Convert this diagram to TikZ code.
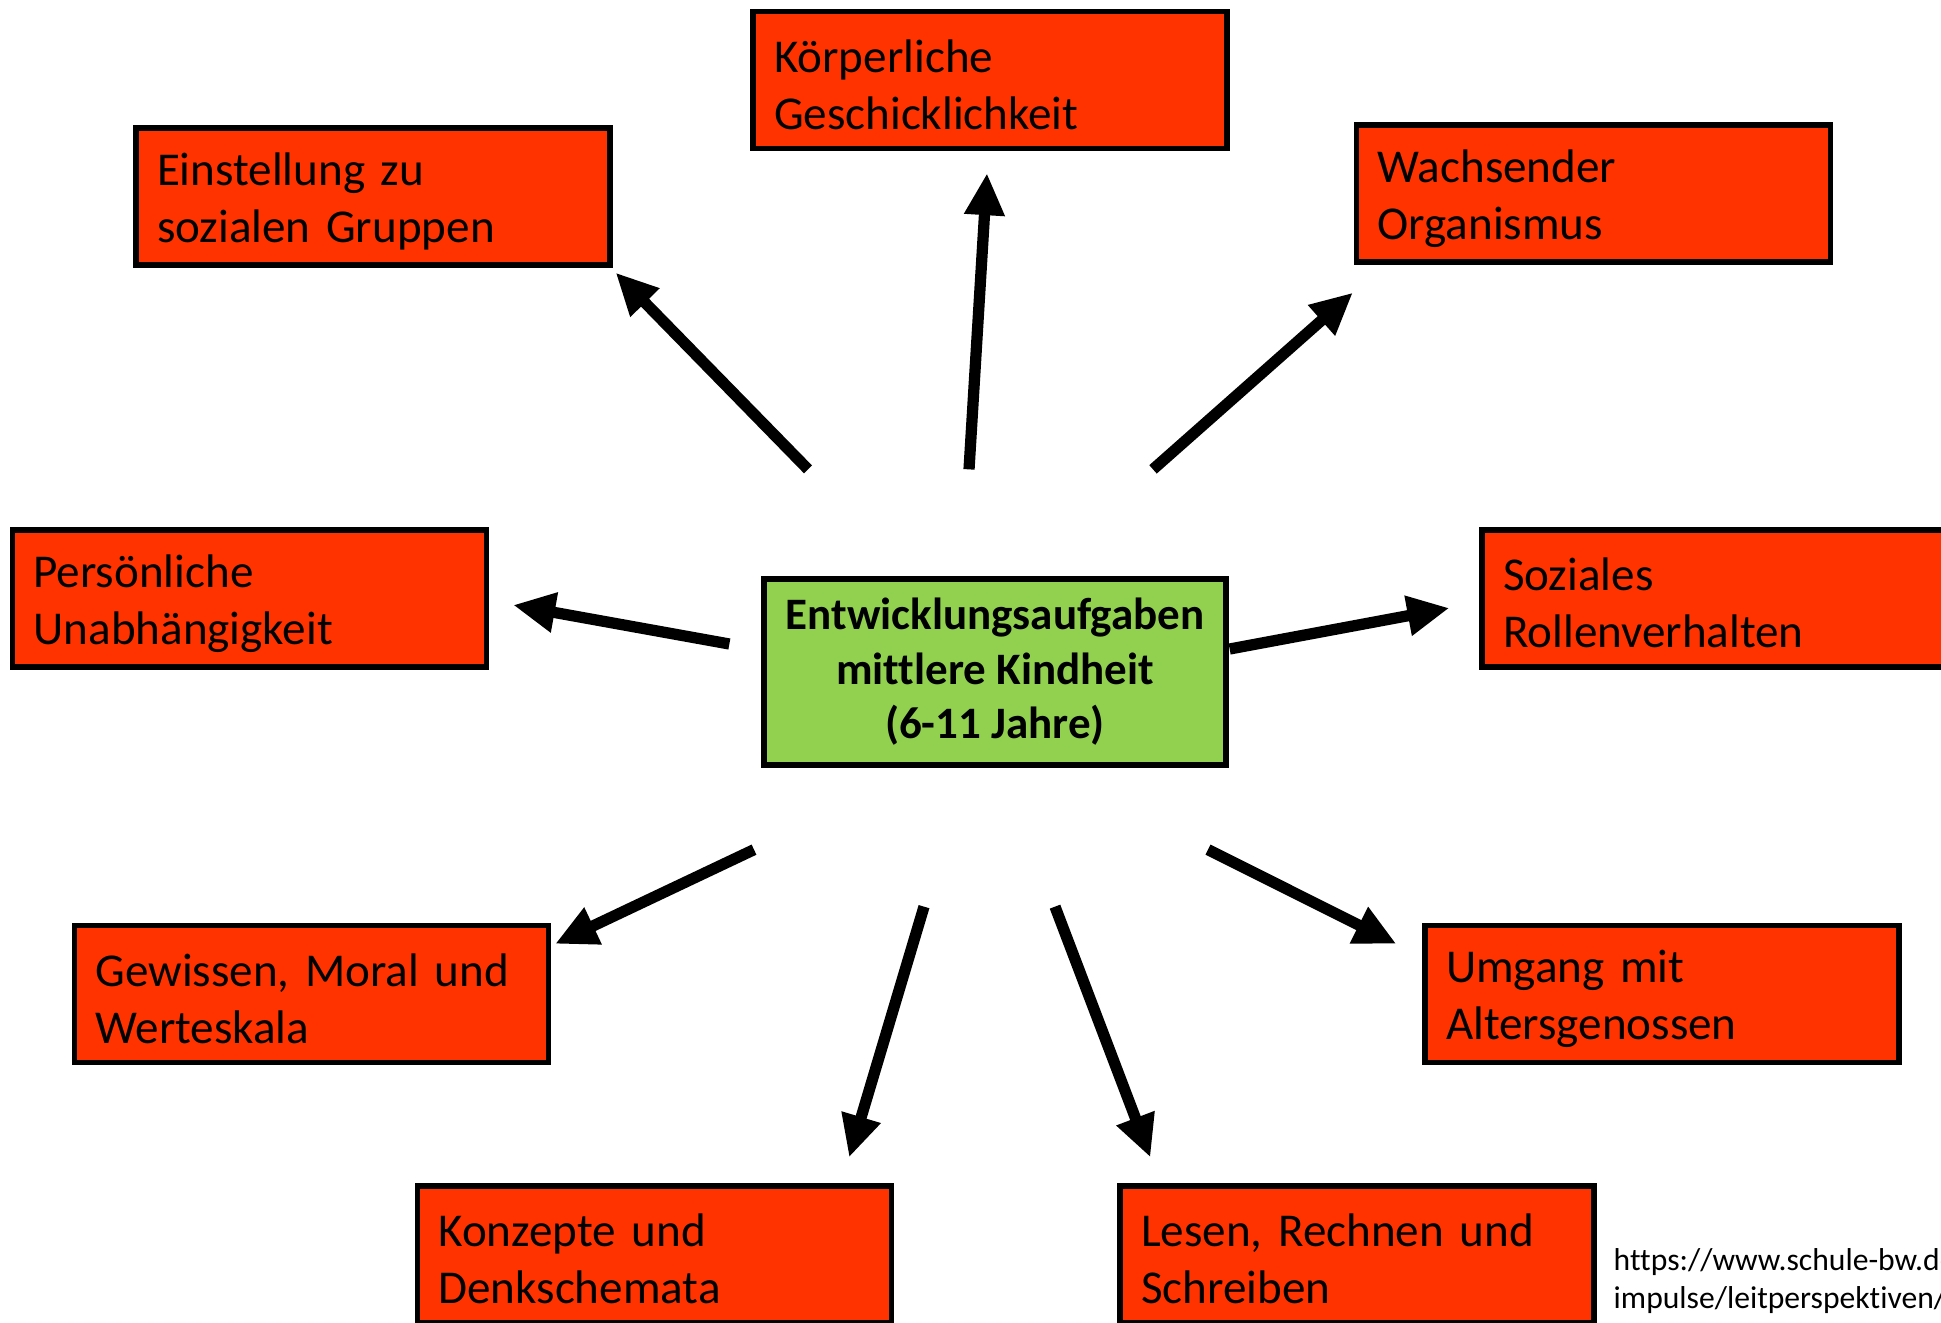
\documentclass[tikz,border=0pt]{standalone}
\usepackage{fontspec}
\setmainfont{Carlito}[Ligatures=NoCommon]
\usepackage{tikz}
\usetikzlibrary{arrows.meta,positioning,calc}

\definecolor{aufgabenrot}{HTML}{FF3300}
\definecolor{kindgruen}{HTML}{92D050}

\begin{document}
\begin{tikzpicture}[
        aufgabe/.style={rectangle, draw, line width=1.5pt, fill=aufgabenrot, minimum width=4.74cm, minimum height=1.37cm, text width=4.32cm, inner xsep=0.21cm, align=left, font=\fontsize{13.4}{16.2}\selectfont, execute at begin node={\rule{0pt}{12pt}}},
        mittelbox/.style={rectangle, draw, line width=1.5pt, fill=kindgruen, minimum width=4.62cm, minimum height=1.86cm, align=center, font=\fontsize{12.8}{15.5}\selectfont\bfseries},
        pfeil/.style={-{Triangle[length=0.42cm,width=0.38cm]}, line width=3.2pt}
    ]
        \clip (0,0) rectangle (19.41,-13.22);

        \node (mitte) [mittelbox] at (9.95,-6.72) {Entwicklungsaufgaben\\mittlere Kindheit\\(6-11 Jahre)};

        \node (koerper) [aufgabe] at (9.90,-0.80) {Körperliche\\Geschicklichkeit};
        \node (einst) [aufgabe] at (3.73,-1.965) {Einstellung zu\\sozialen Gruppen};
        \node (wachs) [aufgabe] at (15.935,-1.935) {Wachsender\\Organismus};
        \node (pers) [aufgabe] at (2.495,-5.985) {Persönliche\\Unabhängigkeit};
        \node (sozial) [aufgabe] at (17.19,-5.985) {Soziales\\Rollenverhalten};
        \node (gewissen) [aufgabe] at (3.115,-9.94) {Gewissen, Moral und\\Werteskala};
        \node (umgang) [aufgabe] at (16.62,-9.94) {Umgang mit\\Altersgenossen};
        \node (konzepte) [aufgabe] at (6.545,-12.545) {Konzepte und\\Denkschemata};
        \node (lesen) [aufgabe] at (13.57,-12.545) {Lesen, Rechnen und\\Schreiben};

        % Quelle
        \node (quelle) [anchor=west, align=left, inner sep=0pt, font=\fontsize{9}{10.8}\selectfont] at (16.13,-12.81) {https://www.schule-bw.de\\impulse/leitperspektiven/};

        % oben
        \draw[pfeil] ($(mitte.north)+(-1.87,1.07)$) -- ($(einst.south east)+(0.03,-0.05)$);
        \draw[pfeil] ($(mitte.north)+(-0.26,1.07)$) -- ($(koerper.south)+(-0.03,-0.22)$);
        \draw[pfeil] ($(mitte.north)+(1.58,1.07)$) -- ($(wachs.south west)+(-0.01,-0.28)$);

        % seitlich
        \draw[pfeil] ($(mitte.west)+(-0.32,0.28)$) -- ($(pers.east)+(0.24,-0.065)$);
        \draw[pfeil] ($(mitte.east)+(0.01,0.23)$) -- ($(sozial.west)+(-0.30,-0.095)$);

        % unten
        \draw[pfeil] ($(mitte.south)+(-2.41,-0.82)$) -- ($(gewissen.north east)+(0.04,-0.21)$);
        \draw[pfeil] ($(mitte.south)+(-0.71,-1.39)$) -- ($(konzepte.north east)+(-0.45,0.26)$);
        \draw[pfeil] ($(mitte.south)+(0.60,-1.39)$) -- ($(lesen.north west)+(0.33,0.26)$);
        \draw[pfeil] ($(mitte.south)+(2.13,-0.82)$) -- ($(umgang.north west)+(-0.26,-0.21)$);
    \end{tikzpicture}
\end{document}
